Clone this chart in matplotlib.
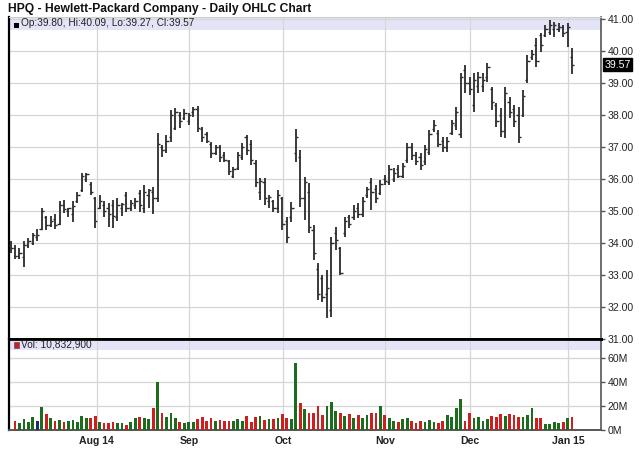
import numpy as np
import matplotlib
matplotlib.use("Agg")
import matplotlib.pyplot as plt
from matplotlib.patches import Rectangle
from matplotlib.transforms import blended_transform_factory

plt.rcParams['font.family'] = ['Liberation Sans', 'DejaVu Sans']

# daily OHLC, one entry per trading day (early Jul 2014 .. 5 Jan 2015)
high = [34.05, 33.95, 33.85, 34.05, 34.15, 34.30, 34.45, 35.10, 34.85, 34.85,
        34.90, 35.30, 35.35, 35.10, 35.30, 35.60, 36.20, 36.20, 35.90, 35.45,
        35.50, 35.30, 35.25, 35.35, 35.40, 35.25, 35.60, 35.35, 35.40, 35.65,
        35.80, 35.70, 35.75, 37.44, 37.06, 37.38, 38.16, 38.22, 38.10, 38.19,
        38.06, 38.25, 38.28, 37.63, 37.47, 37.16, 37.06, 37.06, 36.84, 36.60,
        36.38, 36.84, 37.13, 37.38, 37.22, 36.60, 36.03, 36.03, 35.50, 35.34,
        35.66, 35.44, 34.81, 35.28, 37.56, 36.90, 36.06, 35.88, 34.56, 33.38,
        33.00, 33.16, 34.19, 34.50, 33.88, 34.81, 34.88, 35.19, 35.25, 35.44,
        35.75, 36.03, 35.81, 35.97, 36.13, 36.44, 36.34, 36.44, 36.50, 37.13,
        37.13, 36.84, 36.81, 37.06, 37.53, 37.84, 37.53, 37.30, 37.30, 37.84,
        38.25, 39.31, 39.56, 39.19, 39.31, 39.34, 39.31, 39.63, 38.88, 38.38,
        38.22, 38.88, 38.56, 38.31, 38.25, 38.78, 39.88, 40.03, 40.41, 40.56,
        40.81, 40.97, 40.91, 40.88, 40.81, 40.88, 40.09]
low = [33.70, 33.50, 33.50, 33.25, 33.85, 33.95, 34.05, 34.40, 34.40, 34.50,
       34.45, 34.55, 34.95, 34.80, 34.65, 35.25, 35.60, 35.90, 35.50, 34.47,
       35.05, 34.80, 34.50, 34.47, 34.70, 34.85, 34.97, 35.00, 35.05, 34.97,
       34.95, 35.10, 34.90, 35.28, 36.69, 36.81, 37.16, 37.53, 37.60, 37.84,
       37.69, 37.95, 37.47, 37.16, 37.13, 36.66, 36.75, 36.53, 36.53, 36.13,
       36.03, 36.28, 36.60, 36.75, 36.44, 35.75, 35.34, 35.19, 35.10, 34.97,
       34.94, 34.41, 34.00, 34.66, 36.53, 35.13, 34.72, 34.31, 33.47, 32.22,
       32.16, 31.66, 31.69, 33.78, 33.00, 34.19, 34.47, 34.72, 34.78, 34.81,
       35.41, 35.03, 35.25, 35.50, 35.81, 35.81, 35.90, 36.03, 36.03, 36.50,
       36.60, 36.44, 36.28, 36.44, 36.75, 37.47, 37.00, 36.85, 36.84, 37.38,
       37.53, 37.28, 38.69, 38.63, 38.09, 38.69, 38.72, 39.03, 38.16, 37.63,
       37.31, 37.28, 37.91, 37.63, 37.13, 37.94, 39.00, 39.72, 39.50, 39.97,
       40.44, 40.50, 40.44, 40.59, 40.44, 40.13, 39.27]
opn = [33.95, 33.85, 33.60, 33.55, 33.95, 34.00, 34.20, 34.45, 34.80, 34.55,
       34.75, 34.60, 35.20, 35.00, 34.90, 35.30, 35.65, 36.00, 35.85, 35.40,
       35.10, 35.20, 35.10, 35.20, 34.80, 35.10, 35.50, 35.10, 35.20, 35.55,
       35.10, 35.50, 35.60, 35.40, 37.00, 36.90, 37.30, 37.60, 38.00, 37.90,
       37.80, 38.10, 38.20, 37.55, 37.40, 37.10, 36.80, 37.00, 36.75, 36.55,
       36.10, 36.35, 36.70, 37.30, 37.10, 36.50, 35.60, 35.90, 35.30, 35.30,
       35.10, 35.40, 34.70, 34.80, 36.80, 36.70, 35.40, 35.60, 34.40, 33.20,
       32.90, 32.40, 31.90, 34.30, 33.85, 34.30, 34.80, 34.80, 35.10, 34.90,
       35.50, 35.90, 35.70, 35.55, 36.00, 35.90, 36.00, 36.30, 36.10, 36.60,
       37.00, 36.75, 36.70, 36.55, 36.85, 37.55, 37.45, 37.20, 37.00, 37.45,
       37.70, 37.40, 39.40, 39.00, 38.30, 38.90, 38.90, 39.20, 38.80, 38.30,
       38.00, 37.50, 38.40, 38.20, 38.00, 38.00, 39.10, 39.80, 40.20, 40.50,
       40.50, 40.60, 40.70, 40.70, 40.75, 40.60, 39.80]
close = [33.85, 33.60, 33.70, 33.95, 34.05, 34.25, 34.25, 35.00, 34.55, 34.70,
         34.55, 35.20, 35.05, 35.08, 35.15, 35.50, 36.10, 36.15, 35.60, 34.70,
         35.30, 35.00, 34.90, 34.85, 35.20, 35.22, 35.10, 35.25, 35.30, 35.20,
         35.60, 35.65, 35.40, 37.10, 36.90, 37.20, 38.00, 38.10, 37.80, 38.05,
         38.00, 38.20, 37.60, 37.30, 37.20, 36.80, 37.00, 36.70, 36.60, 36.25,
         36.30, 36.75, 37.00, 36.90, 36.60, 35.90, 35.95, 35.40, 35.45, 35.10,
         35.50, 34.60, 34.20, 35.10, 37.30, 35.40, 35.90, 34.50, 33.70, 32.40,
         32.30, 32.60, 34.00, 34.10, 33.05, 34.70, 34.60, 35.00, 34.90, 35.30,
         35.70, 35.60, 35.40, 35.85, 35.95, 36.30, 36.20, 36.10, 36.40, 37.00,
         36.75, 36.55, 36.45, 36.95, 37.40, 37.70, 37.10, 37.00, 37.20, 37.75,
         38.10, 39.20, 39.00, 38.80, 39.10, 39.20, 39.10, 39.50, 38.40, 37.80,
         37.50, 38.70, 38.10, 37.80, 37.30, 38.60, 39.70, 39.90, 39.70, 40.20,
         40.70, 40.80, 40.80, 40.75, 40.55, 40.75, 39.57]

# volume in millions, from the second trading day on
volume = [7.5, 5.6, 8.9, 6.4, 11.0, 7.5, 19.4, 13.3, 10.3, 7.5,
          8.3, 6.9, 7.5, 8.0, 6.9, 11.7, 9.7, 10.3, 11.7, 6.4,
          5.6, 5.6, 6.7, 5.6, 5.6, 4.2, 6.4, 9.7, 11.0, 9.7,
          8.9, 18.6, 40.3, 13.9, 11.0, 13.9, 9.7, 6.4, 5.6, 6.9,
          6.4, 8.9, 11.0, 7.5, 10.3, 7.5, 8.3, 7.5, 7.5, 7.8,
          8.9, 7.5, 11.7, 6.4, 11.0, 11.7, 8.3, 9.4, 8.9, 10.3,
          13.0, 9.7, 8.9, 56.0, 22.8, 17.2, 13.9, 13.9, 20.0, 12.5,
          20.0, 23.6, 15.8, 13.9, 11.7, 13.3, 9.7, 12.5, 9.7, 12.5,
          14.4, 14.4, 20.0, 12.5, 10.3, 7.5, 6.9, 8.9, 9.7, 7.8,
          6.1, 7.5, 6.4, 8.3, 6.4, 5.6, 7.5, 12.5, 11.0, 18.6,
          25.6, 7.5, 14.4, 9.7, 11.0, 7.8, 8.9, 11.7, 10.6, 13.3,
          11.7, 13.3, 12.5, 11.0, 11.0, 12.5, 18.6, 10.3, 9.7, 5.0,
          5.0, 6.9, 5.6, 6.9, 9.7, 10.8329]
# g = up, r = down, b = unchanged
vol_dir = ("rggggbgrgr" "grgggggrrg" "rrrggrggrg" "grgrgggrgg"
           "grrrrgrrrg" "ggrrrgrgrg" "rrggrgrrrr" "gggrgrgrgg"
           "rrgrggrggr" "rrgggrrggg" "grrggggrrr" "grrrgggrrg" "gggrgr")

month_pos = [19.3, 40.1, 61.2, 84.0, 103.1, 125.1]
month_lbl = ['Aug 14', 'Sep', 'Oct', 'Nov', 'Dec', 'Jan 15']

price_ticks = [31, 32, 33, 34, 35, 36, 37, 38, 39, 40, 41]
vol_ticks = [0, 20, 40, 60]

W, H = 640, 468
fig = plt.figure(figsize=(6.4, 4.68), dpi=100)
fig.patch.set_facecolor('white')

ax = fig.add_axes([9 / W, 1 - 339 / H, 592 / W, 322 / H])
axv = fig.add_axes([9 / W, 1 - 430 / H, 592 / W, 91 / H], sharex=ax)

x = np.arange(len(high))
bar_col = '#2b2b2b'
ax.vlines(x, low, high, color=bar_col, lw=1.3, zorder=3)
ax.hlines(opn, x - 0.5, x, color=bar_col, lw=1.0, zorder=3)
ax.hlines(close, x, x + 0.5, color=bar_col, lw=1.0, zorder=3)

colmap = {'g': '#1d6b1d', 'r': '#cc1f1f', 'b': '#1c2a78'}
xv = np.arange(1, len(volume) + 1)
axv.bar(xv, volume, width=0.62, color=[colmap[c] for c in vol_dir], zorder=3)

ax.set_xlim(-0.34, 132.5)
ax.set_ylim(31, 41.06)
axv.set_ylim(0, 75.8)

grid_col = '#d6d6d6'
for a in (ax, axv):
    a.set_xticks(month_pos)
    a.grid(True, color=grid_col, lw=0.9, zorder=0)
    a.yaxis.tick_right()
    a.tick_params(axis='y', direction='out', length=3, width=1, color='#555555',
                  labelsize=7.6, pad=2, labelcolor='#222222')
    a.spines['left'].set_color('black')
    a.spines['left'].set_linewidth(1.6)
    a.spines['right'].set_color('#555555')
    a.spines['right'].set_linewidth(1.2)

ax.set_yticks(price_ticks)
ax.set_yticklabels(['%.2f' % v for v in price_ticks])
ax.tick_params(axis='x', length=0, labelbottom=False)
ax.spines['top'].set_color('#cccccc')
ax.spines['bottom'].set_color('black')
ax.spines['bottom'].set_linewidth(2)

axv.set_yticks(vol_ticks)
axv.set_yticklabels(['%dM' % v for v in vol_ticks])
axv.set_xticklabels(month_lbl, fontsize=7.6, fontweight='bold', color='#222222')
axv.tick_params(axis='x', length=0, pad=4)
axv.spines['top'].set_color('black')
axv.spines['top'].set_linewidth(2)
axv.spines['bottom'].set_color('#555555')
axv.spines['bottom'].set_linewidth(1.4)

# header bands
band = '#e4e4f8'
ax.add_patch(Rectangle((0, 1 - 13 / 322), 1, 13 / 322, transform=ax.transAxes,
                       facecolor=band, edgecolor='none', zorder=1))
axv.add_patch(Rectangle((0, 1 - 11 / 91), 1, 11 / 91, transform=axv.transAxes,
                        facecolor=band, edgecolor='none', zorder=1))

ax.add_patch(Rectangle((5 / 592, 1 - 11 / 322), 5 / 592, 5 / 322, transform=ax.transAxes,
                       facecolor='black', edgecolor='none', zorder=4))
ax.text(12 / 592, 1 - 6.5 / 322, 'Op:%.2f, Hi:%.2f, Lo:%.2f, Cl:%.2f' % (opn[-1], high[-1], low[-1], close[-1]),
        transform=ax.transAxes, fontsize=7.3, va='center', ha='left', color='#222222', zorder=4)

axv.add_patch(Rectangle((5 / 592, 1 - 8.5 / 91), 5 / 592, 5.5 / 91, transform=axv.transAxes,
                        facecolor='#cc1f1f', edgecolor='#444444', lw=0.4, zorder=4))
axv.text(12 / 592, 1 - 5.5 / 91, 'Vol: {:,}'.format(int(round(volume[-1] * 1e6))),
         transform=axv.transAxes, fontsize=7.3, va='center', ha='left', color='#222222', zorder=4)

# last price marker on the right axis
trans = blended_transform_factory(ax.transAxes, ax.transData)
ax.text(1.006, close[-1], '%.2f' % close[-1], transform=trans, fontsize=7.6,
        color='white', va='center', ha='left', zorder=5,
        bbox=dict(boxstyle='square,pad=0.12', facecolor='black', edgecolor='black'))

fig.text(8 / W, 1 - 9 / H, 'HPQ - Hewlett-Packard Company - Daily OHLC Chart',
         fontsize=8.7, fontweight='bold', va='center', ha='left', color='#111111')

fig.savefig('out.png', dpi=100, facecolor='white')
